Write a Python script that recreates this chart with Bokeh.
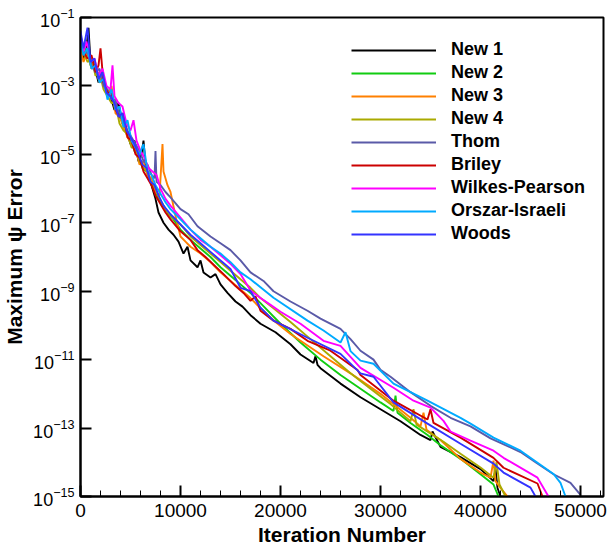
from bokeh.plotting import figure
from bokeh.models import (FixedTicker, SingleIntervalTicker, Range1d, Legend,
                          LegendItem, LogTickFormatter)
from bokeh.embed import file_html
from bokeh.resources import INLINE

FONT = "Liberation Sans"

SERIES_NAMES = ["New 1", "New 2", "New 3", "New 4", "Thom", "Briley",
                "Wilkes-Pearson", "Orszar-Israeli", "Woods"]
SERIES_COLORS = ["#000000", "#11cc11", "#ff8000", "#aaaa00", "#5a5aa8",
                 "#cc0000", "#ff00ff", "#00aaff", "#3333ff"]

Y_TICKS = [1e-1, 1e-3, 1e-5, 1e-7, 1e-9, 1e-11, 1e-13, 1e-15]

# iteration numbers and log10(maximum psi error)
NEW1_ITER = [0, 300, 600, 800, 1000, 1400, 1800, 2200, 2600, 3000, 3400, 3800, 4200, 4600, 5000,
             5400, 5800, 6100, 6300, 6500, 6800, 7100, 7500, 7800, 8300, 8800, 9300, 9800, 10300,
             10700, 11000, 11700, 12000, 12300, 13000, 13500, 14000, 14700, 15500, 16200, 17000,
             18000, 19500, 21000, 22000, 23300, 23500, 23700, 24000, 26000, 28000, 30000, 32000,
             34000, 35000, 35200, 36000, 38000, 40000, 41300, 41500, 41700, 42000]
NEW1_LOGERR = [-1.75, -2.2, -1.9, -1.3, -2.3, -2.4, -2.9, -2.6, -3.2, -3.3, -3.7, -3.5, -4.1, -4.3,
               -4.7, -4.6, -5.2, -5.0, -4.6, -5.3, -5.6, -5.9, -6.3, -6.7, -7.0, -7.2, -7.35, -7.55,
               -7.9, -7.7, -8.1, -8.3, -8.1, -8.45, -8.6, -8.5, -8.8, -9.05, -9.3, -9.45, -9.7,
               -9.95, -10.2, -10.55, -10.85, -11.1, -10.9, -11.15, -11.25, -11.7, -12.1, -12.45,
               -12.8, -13.2, -13.35, -13.1, -13.55, -13.85, -14.2, -14.55, -14.2, -14.75, -15.0]

NEW2_ITER = [0, 300, 600, 1000, 1400, 1800, 2200, 2600, 3000, 3400, 3800, 4200, 4600, 5000, 5400,
             5800, 6200, 6600, 7000, 7400, 7800, 8300, 8800, 9300, 10000, 11000, 12000, 13000,
             14000, 15000, 16000, 17000, 18000, 20000, 22000, 24000, 26000, 28000, 30000, 31300,
             31500, 31700, 33000, 34700, 36000, 38000, 40000, 41300, 41800]
NEW2_LOGERR = [-1.6, -2.1, -1.9, -2.4, -2.3, -2.8, -2.7, -3.2, -3.1, -3.6, -3.8, -3.9, -4.4, -4.5,
               -4.9, -5.0, -5.4, -5.5, -5.8, -6.0, -6.3, -6.5, -6.75, -6.9, -7.2, -7.5, -7.75, -8.0,
               -8.3, -8.55, -8.8, -9.05, -9.35, -9.95, -10.5, -11.0, -11.45, -11.85, -12.25, -12.5,
               -12.05, -12.55, -12.85, -13.2, -13.5, -13.9, -14.35, -14.65, -15.0]

NEW3_ITER = [0, 300, 700, 1100, 1500, 1900, 2300, 2700, 3100, 3500, 3900, 4300, 4700, 5100, 5500,
             5900, 6300, 6700, 7100, 7500, 7900, 8100, 8200, 8300, 8700, 9000, 9500, 10000, 10500,
             11000, 12000, 13000, 14000, 15000, 16000, 17000, 18000, 19500, 21000, 24300, 27000,
             30000, 33000, 34000, 34300, 34600, 36000, 38000, 40000, 41000, 41300, 41500, 42000,
             42700]
NEW3_LOGERR = [-1.9, -2.3, -2.0, -2.5, -2.4, -2.9, -2.8, -3.3, -3.0, -3.8, -3.9, -4.2, -4.5, -4.7,
               -4.8, -5.3, -5.2, -5.6, -5.7, -6.1, -6.2, -5.2, -4.7, -5.5, -5.9, -6.1, -6.8, -7.4,
               -7.55, -7.7, -7.9, -8.15, -8.45, -8.7, -8.95, -9.2, -9.5, -9.9, -10.25, -10.9, -11.4,
               -12.0, -12.7, -12.95, -12.55, -13.05, -13.35, -13.9, -14.3, -14.45, -13.95, -14.55,
               -14.75, -15.0]

NEW4_ITER = [0, 300, 700, 1100, 1500, 1900, 2300, 2700, 3100, 3500, 3900, 4300, 4700, 5100, 5500,
             5900, 6300, 6700, 7100, 7500, 7900, 8500, 9000, 10000, 11000, 12000, 13000, 14000,
             15000, 16000, 17000, 18000, 19300, 21000, 23000, 25000, 27000, 29000, 31000, 33000,
             33300, 33600, 36300, 38000, 40000, 41300, 41600, 41900, 42500]
NEW4_LOGERR = [-1.7, -2.0, -2.3, -2.2, -2.7, -2.6, -3.1, -3.3, -3.5, -3.5, -4.1, -4.3, -4.4, -4.8,
               -4.8, -5.2, -5.4, -5.5, -5.9, -6.0, -6.3, -6.6, -6.8, -7.05, -7.4, -7.65, -7.9, -8.15,
               -8.4, -8.65, -8.9, -9.2, -9.5, -9.9, -10.4, -10.9, -11.4, -11.85, -12.3, -12.8,
               -12.45, -12.9, -13.4, -13.75, -14.15, -14.45, -14.0, -14.65, -15.0]

THOM_ITER = [0, 300, 700, 1100, 1500, 1900, 2300, 2700, 3100, 3500, 3900, 4300, 4700, 5100, 5500,
             5900, 6300, 6700, 7100, 7400, 7500, 7600, 8000, 8500, 9000, 10000, 10800, 11700,
             13000, 14000, 15000, 16000, 17000, 18300, 19300, 21000, 22700, 24000, 26000, 27000,
             28000, 29300, 30000, 31000, 33000, 35000, 37000, 39000, 41000, 44000, 45500, 47300,
             49000, 50000]
THOM_LOGERR = [-1.8, -2.1, -2.0, -2.4, -2.6, -2.5, -3.0, -3.1, -3.4, -3.4, -3.9, -4.0, -4.3, -4.5,
               -4.7, -4.9, -5.2, -5.3, -5.6, -5.7, -4.9, -5.8, -5.9, -6.1, -6.26, -6.6, -6.75, -7.1,
               -7.4, -7.6, -7.8, -8.1, -8.45, -8.7, -9.0, -9.3, -9.57, -9.8, -10.1, -10.4, -10.74,
               -11.0, -11.3, -11.5, -11.95, -12.35, -12.7, -12.95, -13.3, -13.7, -14.0, -14.35,
               -14.6, -14.95]

BRILEY_ITER = [0, 300, 700, 1100, 1500, 1800, 2000, 2300, 2700, 3100, 3500, 3900, 4300, 4700,
               5100, 5500, 5900, 6300, 6700, 7100, 7500, 7900, 8500, 9000, 10000, 11000, 11700,
               12500, 14300, 15500, 16300, 17000, 17500, 18000, 19300, 21000, 22700, 25000, 27700,
               28000, 31300, 34700, 35000, 35300, 38000, 41300, 42300, 45700, 46200]
BRILEY_LOGERR = [-1.5, -2.0, -2.2, -2.1, -2.6, -2.4, -1.9, -2.9, -3.2, -3.2, -3.7, -3.9, -3.8,
                 -4.5, -4.6, -5.0, -5.1, -5.5, -5.7, -5.9, -6.2, -6.4, -6.7, -6.9, -7.25, -7.5,
                 -7.8, -8.0, -8.5, -8.85, -9.05, -9.28, -9.15, -9.57, -9.86, -10.1, -10.45, -10.74,
                 -11.3, -11.45, -12.2, -12.75, -12.45, -12.85, -13.28, -13.87, -14.16, -14.62,
                 -15.0]

WILKES_ITER = [0, 300, 600, 1000, 1400, 1800, 2200, 2600, 3000, 3200, 3400, 3800, 4200, 4600,
               5000, 5300, 5600, 6000, 6400, 6800, 7200, 7600, 8000, 8500, 9000, 10000, 11000,
               12000, 13000, 14000, 15000, 16000, 17000, 18000, 19000, 20000, 22000, 24300, 26000,
               28000, 31300, 33300, 35000, 36300, 37000, 39000, 41300, 42300, 45700, 46800]
WILKES_LOGERR = [-1.6, -2.0, -1.7, -2.3, -2.2, -2.7, -2.5, -3.0, -3.1, -2.4, -3.3, -3.5, -3.6,
                 -4.1, -4.3, -4.0, -4.6, -4.9, -5.1, -5.4, -5.5, -5.6, -6.0, -6.3, -6.5, -6.85,
                 -7.2, -7.5, -7.7, -7.95, -8.2, -8.5, -8.98, -9.2, -9.4, -9.6, -9.95, -10.45,
                 -10.6, -11.24, -11.82, -12.2, -12.4, -12.79, -13.1, -13.37, -13.66, -13.87,
                 -14.45, -15.0]

ORSZAR_ITER = [0, 300, 700, 1100, 1500, 1900, 2300, 2700, 3100, 3500, 3900, 4300, 4700, 5100,
               5500, 5900, 6300, 6700, 7100, 7500, 7900, 8500, 9000, 10000, 11000, 12000, 13000,
               14000, 15000, 16000, 17000, 19300, 22700, 24300, 26000, 26500, 27000, 28000, 29300,
               31300, 34700, 38000, 39000, 41300, 44000, 47300, 48000, 48500]
ORSZAR_LOGERR = [-1.7, -2.1, -1.9, -2.5, -2.4, -2.9, -2.8, -3.4, -3.1, -3.7, -3.6, -4.2, -4.0,
                 -4.6, -4.8, -5.0, -4.7, -5.5, -5.6, -5.9, -6.1, -6.4, -6.6, -6.9, -7.2, -7.45,
                 -7.7, -7.9, -8.15, -8.45, -8.65, -9.19, -9.86, -10.15, -10.5, -10.2, -10.75,
                 -11.03, -11.12, -11.7, -12.2, -12.7, -12.87, -13.28, -13.66, -14.34, -14.6, -15.0]

WOODS_ITER = [0, 300, 700, 1000, 1400, 1800, 2200, 2600, 3000, 3400, 3800, 4200, 4600, 5000, 5400,
              5800, 6200, 6600, 7000, 7400, 7800, 8300, 9000, 10000, 11000, 12000, 13000, 14000,
              15000, 16000, 17000, 18000, 19300, 22700, 26000, 28000, 29300, 31300, 34700, 38000,
              41300, 42300, 45000, 45500]
WOODS_LOGERR = [-1.4, -1.9, -1.3, -2.3, -2.2, -2.8, -2.6, -3.2, -3.3, -3.5, -3.9, -3.8, -4.3, -4.5,
                -4.7, -5.0, -5.3, -5.4, -5.8, -5.9, -6.2, -6.5, -6.75, -7.05, -7.35, -7.6, -7.85,
                -8.1, -8.35, -8.9, -9.0, -9.48, -9.86, -10.36, -10.83, -11.4, -11.5, -12.25,
                -12.87, -13.46, -14.04, -14.3, -14.74, -15.0]

SERIES_ITERS = [NEW1_ITER, NEW2_ITER, NEW3_ITER, NEW4_ITER, THOM_ITER, BRILEY_ITER,
                WILKES_ITER, ORSZAR_ITER, WOODS_ITER]
SERIES_LOGERRS = [NEW1_LOGERR, NEW2_LOGERR, NEW3_LOGERR, NEW4_LOGERR, THOM_LOGERR,
                  BRILEY_LOGERR, WILKES_LOGERR, ORSZAR_LOGERR, WOODS_LOGERR]

p = figure(width=607, height=549, x_range=Range1d(0, 52300), y_range=Range1d(1e-15, 1e-1),
           y_axis_type="log", output_backend="svg", toolbar_location=None,
           min_border_left=80, min_border_right=4, min_border_top=17, min_border_bottom=53)
p.background_fill_color = "white"
p.border_fill_color = "white"
p.xgrid.visible = False
p.ygrid.visible = False
p.outline_line_color = "black"
p.outline_line_width = 2
p.outline_line_alpha = 1

items = []
for name, color, xs, es in zip(SERIES_NAMES, SERIES_COLORS, SERIES_ITERS, SERIES_LOGERRS):
    ys = [10.0 ** e for e in es]
    r = p.line(xs, ys, line_color=color, line_width=1.9)
    items.append(LegendItem(label=name, renderers=[r]))

# axes
p.xaxis.ticker = SingleIntervalTicker(interval=10000, num_minor_ticks=5)
p.yaxis.ticker = FixedTicker(ticks=Y_TICKS, minor_ticks=[])
p.yaxis.formatter = LogTickFormatter(min_exponent=0)
for ax in (p.xaxis[0], p.yaxis[0]):
    ax.axis_line_color = "black"
    ax.axis_line_width = 2
    ax.major_tick_in = 11
    ax.major_tick_out = 0
    ax.minor_tick_in = 6
    ax.minor_tick_out = 0
    ax.major_tick_line_width = 2
    ax.major_tick_line_color = "black"
    ax.minor_tick_line_color = "black"
    ax.minor_tick_line_width = 1
    ax.major_label_text_font = FONT
    ax.major_label_text_color = "black"
    ax.axis_label_text_font = FONT
    ax.axis_label_text_font_style = "bold"
    ax.axis_label_text_font_size = "21px"
    ax.axis_label_text_color = "black"

p.xaxis.major_label_text_font_size = "19px"
p.yaxis.major_label_text_font_size = "18px"
p.xaxis.axis_label = "Iteration Number"
p.yaxis.axis_label = "Maximum \u03c8 Error"
p.xaxis.major_label_standoff = 7
p.yaxis.major_label_standoff = 6
p.xaxis.axis_label_standoff = 3
p.yaxis.axis_label_standoff = 4

legend = Legend(items=items, location=(271, 252), glyph_width=85, glyph_height=20,
                label_height=20, spacing=2, label_standoff=15, padding=10,
                border_line_color=None, background_fill_alpha=0,
                label_text_font=FONT, label_text_font_style="bold",
                label_text_font_size="18px", label_text_color="black")
p.add_layout(legend)

open("out.html", "w").write(file_html(p, INLINE))
